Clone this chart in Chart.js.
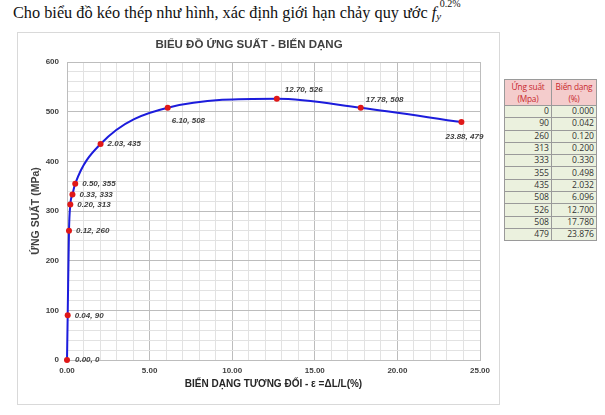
<!DOCTYPE html>
<html>
<head>
<meta charset="utf-8">
<script src="https://cdn.jsdelivr.net/npm/chart.js@4.4.1/dist/chart.umd.min.js"></script>
<style>
  body { margin: 0; background: #fff; width: 605px; height: 415px; position: relative; overflow: hidden; }
  #intro { position: absolute; left: 13px; top: 3px; font-family: "Liberation Serif", serif; font-size: 16.3px; color: #111; white-space: nowrap; }
  .fy { display: inline-block; position: relative; font-style: italic; }
  .fy sub { font-size: 11px; position: relative; top: 2px; vertical-align: baseline; }
  .fy sup { font-size: 10px; font-style: normal; position: absolute; left: 8px; top: -5px; }
  #box { position: absolute; left: 17px; top: 32px; width: 483px; height: 373px; border: 1px solid #d9d9d9; box-sizing: border-box; }
  #wrap { position: absolute; left: 0; top: 0; width: 481px; height: 371px; }
  #tbl { position: absolute; left: 504px; top: 79px; border-collapse: collapse; table-layout: fixed; width: 92px; font-family: "Open Sans", sans-serif; font-size: 8.6px; }
  #tbl td, #tbl th { border: 1px solid #9a9a9a; padding: 0 2px; height: 11.3px; line-height: 11px; overflow: hidden; }
  #tbl th { background: #f4cccc; color: #c8282d; font-weight: normal; text-align: center; line-height: 12px; height: 25px; white-space: nowrap; padding: 0; font-size: 8.3px; letter-spacing: -0.2px; }
  #tbl td { background: #ebf1de; color: #333; text-align: right; }
  #tbl col.c1 { width: 47px; }
  #tbl col.c2 { width: 45px; }
</style>
</head>
<body>
<div id="intro">Cho biểu đồ kéo thép như hình, xác định giới hạn chảy quy ước <span class="fy">f<sub>y</sub><sup>0.2%</sup></span></div>
<div id="box"><div id="wrap"><canvas id="stressChart"></canvas></div></div>
<table id="tbl">
  <colgroup><col class="c1"><col class="c2"></colgroup>
  <thead><tr><th>Ứng suất<br>(Mpa)</th><th>Biến dạng<br>(%)</th></tr></thead>
  <tbody id="tbody"></tbody>
</table>
<script>
// số liệu đọc từ bảng
const stress = [0, 90, 260, 313, 333, 355, 435, 508, 526, 508, 479];
const strain = [0.000, 0.042, 0.120, 0.200, 0.330, 0.498, 2.032, 6.096, 12.700, 17.780, 23.876];

const xMin = 0, xMax = 25, xStep = 1, xMajor = 5;
const yMin = 0, yMax = 600, yStep = 20, yMajor = 100;

// vị trí nhãn điểm (dx, dy, canh lề)
const labelPos = [
    [8, 0, 'left'], [7, 0, 'left'], [7, 0, 'left'], [7, 0, 'left'], [7, 0, 'left'], [7, 0, 'left'],
    [7, 0, 'left'], [4, 13, 'left'], [8, -9, 'left'], [5, -8, 'left'], [3, 15, 'center']
];

const tbody = document.getElementById('tbody');
stress.forEach((s, i) => {
    const tr = document.createElement('tr');
    tr.innerHTML = '<td>' + s + '</td><td>' + strain[i].toFixed(3) + '</td>';
    tbody.appendChild(tr);
});

const points = strain.map((x, i) => ({ x: x, y: stress[i] }));

const pointLabels = {
    id: 'pointLabels',
    afterDatasetsDraw(chart) {
        const ctx = chart.ctx;
        const meta = chart.getDatasetMeta(0);
        ctx.save();
        ctx.font = 'italic bold 8px "Liberation Sans", Arial, sans-serif';
        ctx.fillStyle = '#404040';
        ctx.textBaseline = 'middle';
        meta.data.forEach((pt, i) => {
            const p = labelPos[i];
            ctx.textAlign = p[2];
            ctx.fillText(strain[i].toFixed(2) + ', ' + stress[i], pt.x + p[0], pt.y + p[1]);
        });
        ctx.restore();
    }
};

const tickFont = { family: '"Liberation Sans", Arial, sans-serif', size: 8, weight: 'bold' };

new Chart(document.getElementById('stressChart'), {
    type: 'line',
    data: {
        datasets: [{
            data: points,
            borderColor: '#1c1cdc',
            borderWidth: 2,
            cubicInterpolationMode: 'monotone',
            pointRadius: 3,
            pointHoverRadius: 3,
            pointBackgroundColor: '#e01818',
            pointBorderWidth: 0,
            clip: false
        }]
    },
    options: {
        responsive: true,
        maintainAspectRatio: false,
        animation: false,
        layout: { padding: { left: 0, right: 19, top: 0, bottom: 0 } },
        plugins: {
            legend: { display: false },
            tooltip: { enabled: false },
            title: {
                display: true,
                text: 'BIỂU ĐỒ ỨNG SUẤT - BIẾN DẠNG',
                color: '#404040',
                font: { family: '"Liberation Sans", Arial, sans-serif', size: 11.5, weight: 'bold' },
                padding: { top: 4.5, bottom: 10.7 }
            }
        },
        scales: {
            x: {
                type: 'linear',
                min: xMin, max: xMax,
                afterFit: s => { s.height = 44; },
                grid: {
                    drawTicks: false,
                    color: c => (c.tick.value % xMajor === 0 ? '#bdbdbd' : '#e2e2e2')
                },
                border: { color: '#bdbdbd' },
                ticks: {
                    stepSize: xStep,
                    maxTicksLimit: 40,
                    autoSkip: false,
                    maxRotation: 0,
                    padding: 6,
                    color: '#404040',
                    font: tickFont,
                    callback: v => (v % xMajor === 0 ? v.toFixed(2) : '')
                },
                title: {
                    display: true,
                    text: 'BIẾN DẠNG TƯƠNG ĐỐI - ε =ΔL/L(%)',
                    color: '#262626',
                    font: { family: '"Liberation Sans", Arial, sans-serif', size: 10, weight: 'bold' },
                    padding: { top: 0, bottom: 14 }
                }
            },
            y: {
                min: yMin, max: yMax,
                afterFit: s => { s.width = 49; },
                grid: {
                    drawTicks: false,
                    color: c => (c.tick.value % yMajor === 0 ? '#bdbdbd' : '#e2e2e2')
                },
                border: { color: '#bdbdbd' },
                ticks: {
                    stepSize: yStep,
                    maxTicksLimit: 40,
                    autoSkip: false,
                    padding: 8,
                    color: '#404040',
                    font: tickFont,
                    callback: v => (v % yMajor === 0 ? v : '')
                },
                title: {
                    display: true,
                    text: 'ỨNG SUẤT (MPa)',
                    color: '#404040',
                    font: { family: '"Liberation Sans", Arial, sans-serif', size: 10.5, weight: 'bold' },
                    padding: { top: 12, bottom: 0 }
                }
            }
        }
    },
    plugins: [pointLabels]
});
</script>
</body>
</html>
